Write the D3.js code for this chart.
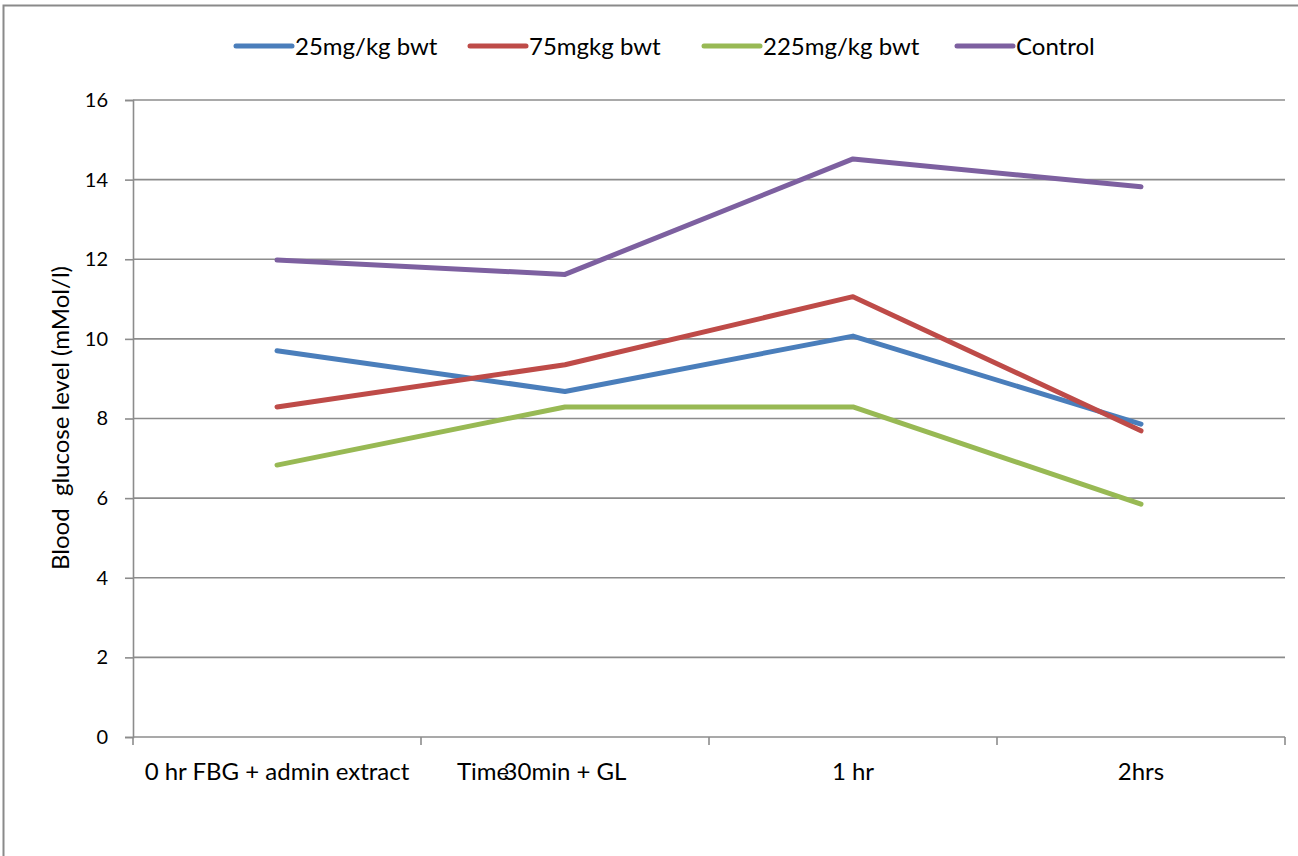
<!DOCTYPE html>
<html>
<head>
<meta charset="utf-8">
<script src="https://cdn.jsdelivr.net/npm/d3@7"></script>
<style>
  html, body { margin: 0; padding: 0; background: #fff; }
  svg { display: block; }
  text { font-family: Lato, "Open Sans", sans-serif; fill: #000; }
</style>
</head>
<body>
<svg id="chart" width="1298" height="856"></svg>
<script>
// Time points (categories)
const categories = ["0 hr FBG + admin extract", "30min + GL", "1 hr", "2hrs"];

// Blood glucose (mMol/l) per dose group
const dose25 = [9.70, 8.68, 10.07, 7.86];
const dose75 = [8.29, 9.35, 11.06, 7.69];
const dose225 = [6.83, 8.29, 8.29, 5.85];
const control = [11.98, 11.62, 14.52, 13.82];

const seriesNames = ["25mg/kg bwt", "75mgkg bwt", "225mg/kg bwt", "Control"];
const seriesColors = ["#4a7ebb", "#be4b48", "#98b954", "#7d60a0"];
const yTicks = [0, 2, 4, 6, 8, 10, 12, 14, 16];

const series = [dose25, dose75, dose225, control].map((values, i) => ({
  name: seriesNames[i], color: seriesColors[i], values
}));

const svg = d3.select("#chart");
const plot = { left: 133, right: 1285, top: 100, bottom: 737 };

// Outer chart frame
svg.append("rect")
  .attr("x", 3.5).attr("y", 5.5)
  .attr("width", 1310).attr("height", 900)
  .attr("fill", "none").attr("stroke", "#8a8a8a").attr("stroke-width", 2);

const x = d3.scaleBand().domain(categories).range([plot.left, plot.right]).padding(0);
const y = d3.scaleLinear().domain([0, 16]).range([plot.bottom, plot.top]);

// Horizontal gridlines
svg.append("g")
  .selectAll("line")
  .data(yTicks.filter(t => t > 0))
  .join("line")
  .attr("x1", plot.left).attr("x2", plot.right)
  .attr("y1", d => y(d)).attr("y2", d => y(d))
  .attr("stroke", "#8c8c8c").attr("stroke-width", 1.6);

// Y axis
const yAxis = svg.append("g")
  .attr("transform", `translate(${plot.left},0)`)
  .call(d3.axisLeft(y).tickValues(yTicks).tickSize(8).tickPadding(17).tickFormat(d3.format("d")));
yAxis.select(".domain").attr("stroke", "#8c8c8c").attr("stroke-width", 1.6);
yAxis.selectAll(".tick line").attr("stroke", "#8c8c8c").attr("stroke-width", 1.6);
yAxis.selectAll(".tick text")
  .attr("font-family", "Lato, 'Open Sans', sans-serif")
  .attr("font-size", 20).attr("fill", "#000");

// X axis with ticks at category boundaries
const xAxisG = svg.append("g");
xAxisG.append("line")
  .attr("x1", plot.left).attr("x2", plot.right)
  .attr("y1", plot.bottom).attr("y2", plot.bottom)
  .attr("stroke", "#8c8c8c").attr("stroke-width", 1.6);
const boundaries = categories.map(c => x(c)).concat([x(categories[categories.length - 1]) + x.bandwidth()]);
xAxisG.selectAll("line.tick")
  .data(boundaries)
  .join("line")
  .attr("class", "tick")
  .attr("x1", d => d).attr("x2", d => d)
  .attr("y1", plot.bottom).attr("y2", plot.bottom + 8)
  .attr("stroke", "#8c8c8c").attr("stroke-width", 1.6);
xAxisG.selectAll("text")
  .data(categories)
  .join("text")
  .attr("x", d => x(d) + x.bandwidth() / 2)
  .attr("y", 780)
  .attr("text-anchor", "middle")
  .attr("font-size", 24)
  .text(d => d);

// Axis titles
svg.append("text")
  .attr("x", 457).attr("y", 780)
  .attr("font-size", 24)
  .text("Time");

svg.append("text")
  .attr("transform", "translate(69,418) rotate(-90)")
  .attr("text-anchor", "middle")
  .attr("font-size", 24)
  .attr("xml:space", "preserve")
  .style("white-space", "pre")
  .text("Blood  glucose level (mMol/l)");

// Series lines
const line = d3.line()
  .x((d, i) => x(categories[i]) + x.bandwidth() / 2)
  .y(d => y(d));

svg.append("g")
  .selectAll("path")
  .data(series)
  .join("path")
  .attr("d", d => line(d.values))
  .attr("fill", "none")
  .attr("stroke", d => d.color)
  .attr("stroke-width", 5)
  .attr("stroke-linejoin", "round")
  .attr("stroke-linecap", "round");

// Legend
const legendX = [236, 470, 704, 957];
const legend = svg.append("g");
series.forEach((s, i) => {
  const g = legend.append("g").attr("transform", `translate(${legendX[i]},46)`);
  g.append("line")
    .attr("x1", 0).attr("x2", 56).attr("y1", 0).attr("y2", 0)
    .attr("stroke", s.color).attr("stroke-width", 5).attr("stroke-linecap", "round");
  g.append("text")
    .attr("x", 59).attr("y", 8.5)
    .attr("font-size", 24)
    .text(s.name);
});
</script>
</body>
</html>
